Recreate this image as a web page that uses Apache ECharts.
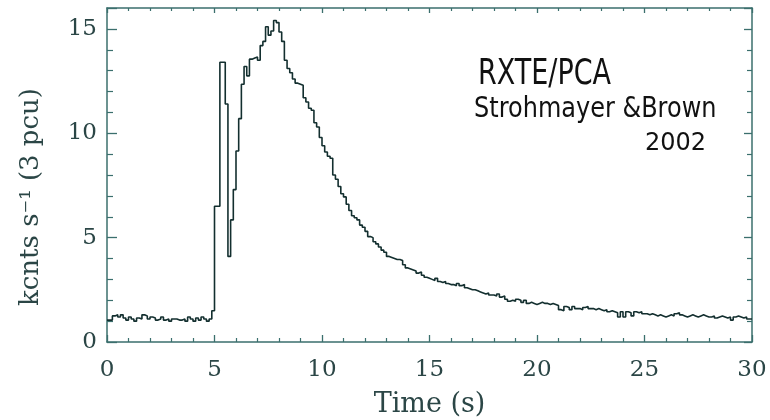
<!DOCTYPE html>
<html>
<head>
<meta charset="utf-8">
<script src="https://cdn.jsdelivr.net/npm/echarts@6/dist/echarts.min.js"></script>
<style>
  html, body { margin: 0; padding: 0; background: #ffffff; }
  #chart { width: 770px; height: 420px; }
</style>
</head>
<body>
<div id="chart"></div>
<script>
// ---- Data ----
const binWidth = 0.125; // s
const xTicks = [0, 5, 10, 15, 20, 25, 30];
const yTicks = [0, 5, 10, 15];
const xLabel = 'Time (s)';
const yLabel = 'kcnts s\u207B\u00B9 (3 pcu)';
const notes = ['RXTE/PCA', 'Strohmayer &Brown', '2002'];

// count rate per 0.125 s bin, kcnts/s
const rate0to5 = [
  1.05, 1.05, 1.25, 1.3, 1.2, 1.3, 1.15, 1.05,
  1.2, 1.1, 1.0, 1.15, 1.1, 1.3, 1.25, 1.1,
  1.2, 1.15, 1.05, 1.1, 1.2, 1.05, 1.1, 1.0,
  1.1, 1.1, 1.05, 1.05, 1.1, 1.0, 1.2, 1.1,
  1.0, 1.15, 1.05, 1.2, 1.1, 1.0, 1.1, 1.5
];
const rate5to10 = [
  6.5, 6.5, 13.4, 13.4, 11.4, 4.1, 5.85, 7.3,
  9.15, 10.7, 12.35, 13.2, 12.75, 13.55, 13.6, 13.65,
  13.5, 14.2, 14.4, 15.1, 14.7, 14.9, 15.4, 15.3,
  14.85, 14.4, 13.5, 13.1, 12.9, 12.6, 12.4, 12.35,
  12.3, 11.7, 11.5, 11.2, 11.1, 10.5, 10.3, 9.8
];
const rate10to15 = [
  9.4, 9.1, 8.9, 8.8, 8.0, 7.8, 7.45, 7.1,
  6.95, 6.6, 6.3, 6.05, 5.95, 5.85, 5.6, 5.5,
  5.3, 5.05, 5.0, 4.8, 4.7, 4.55, 4.4, 4.3,
  4.1, 4.05, 4.0, 3.95, 3.95, 3.9, 3.7, 3.55,
  3.5, 3.45, 3.4, 3.3, 3.35, 3.2, 3.1, 3.05
];
const rate15to20 = [
  3.0, 2.95, 3.05, 2.9, 2.85, 2.9, 2.8, 2.75,
  2.75, 2.7, 2.8, 2.7, 2.75, 2.6, 2.55, 2.5,
  2.5, 2.45, 2.4, 2.35, 2.3, 2.35, 2.25, 2.25,
  2.2, 2.3, 2.15, 2.2, 2.05, 1.95, 2.0, 1.95,
  2.05, 2.0, 1.9, 2.0, 1.85, 1.9, 1.85, 1.8
];
const rate20to25 = [
  1.85, 1.9, 1.85, 1.85, 1.8, 1.85, 1.8, 1.75,
  1.55, 1.5, 1.7, 1.65, 1.55, 1.7, 1.6, 1.6,
  1.55, 1.65, 1.7, 1.6, 1.6, 1.55, 1.6, 1.55,
  1.5, 1.55, 1.45, 1.5, 1.45, 1.4, 1.2, 1.45,
  1.2, 1.45, 1.4, 1.25, 1.45, 1.4, 1.45, 1.35
];
const rate25to30 = [
  1.35, 1.3, 1.35, 1.3, 1.25, 1.3, 1.25, 1.2,
  1.25, 1.3, 1.25, 1.35, 1.4, 1.3, 1.25, 1.2,
  1.25, 1.3, 1.25, 1.2, 1.25, 1.3, 1.25, 1.2,
  1.2, 1.25, 1.15, 1.2, 1.25, 1.2, 1.15, 1.2,
  1.05, 1.2, 1.25, 1.2, 1.15, 1.2, 1.1, 1.1
];

const rate = [].concat(rate0to5, rate5to10, rate10to15, rate15to20, rate20to25, rate25to30);
const seriesData = rate.map((v, i) => [i * binWidth, v]);
seriesData.push([rate.length * binWidth, rate[rate.length - 1]]);

// ---- Styling ----
const axisCol = '#3b6f6d';
const textCol = '#2b4646';
const lineCol = '#132f2f';
const serif = '"DejaVu Serif", "Liberation Serif", serif';

const xMin = xTicks[0], xMax = xTicks[xTicks.length - 1];
const yMin = yTicks[0], yMax = 16;

function xAxisCfg(pos, showLabels) {
  return {
    type: 'value', position: pos, min: xMin, max: xMax, interval: 5,
    splitLine: { show: false },
    axisLine: { show: true, onZero: false, lineStyle: { color: axisCol, width: 1.5 } },
    axisTick: { show: true, inside: true, length: showLabels ? 7 : 5, lineStyle: { color: axisCol, width: 1.3 } },
    minorTick: { show: true, splitNumber: 5, length: showLabels ? 4 : 3, lineStyle: { color: axisCol, width: 1.2 } },
    axisLabel: { show: showLabels, color: textCol, fontFamily: serif, fontSize: 23, margin: 17 },
    name: showLabels ? xLabel : '',
    nameLocation: 'middle', nameGap: 49,
    nameTextStyle: { color: textCol, fontFamily: serif, fontSize: 27 }
  };
}
function yAxisCfg(pos, showLabels) {
  return {
    type: 'value', position: pos, min: yMin, max: yMax, interval: 5,
    splitLine: { show: false },
    axisLine: { show: true, onZero: false, lineStyle: { color: axisCol, width: 1.5 } },
    axisTick: { show: true, inside: true, length: showLabels ? 10 : 8, lineStyle: { color: axisCol, width: 1.3 } },
    minorTick: { show: true, splitNumber: 5, length: showLabels ? 6 : 5, lineStyle: { color: axisCol, width: 1.2 } },
    axisLabel: { show: showLabels, color: textCol, fontFamily: serif, fontSize: 23, margin: 10, showMaxLabel: false },
    name: showLabels ? yLabel : '',
    nameLocation: 'middle', nameGap: 63, nameRotate: 90,
    nameTextStyle: { color: textCol, fontFamily: serif, fontSize: 26, padding: [0, 44, 0, 0] }
  };
}

const chart = echarts.init(document.getElementById('chart'), null, { renderer: 'canvas' });
chart.setOption({
  animation: false,
  backgroundColor: '#ffffff',
  grid: { left: 107, right: 18, top: 8, bottom: 78, containLabel: false, outerBoundsMode: 'none' },
  xAxis: [xAxisCfg('bottom', true), xAxisCfg('top', false)],
  yAxis: [yAxisCfg('left', true), yAxisCfg('right', false)],
  series: [{
    type: 'line',
    xAxisIndex: 0, yAxisIndex: 0,
    step: 'end',
    showSymbol: false,
    data: seriesData,
    lineStyle: { color: lineCol, width: 1.6 },
    silent: true
  }],
  graphic: [
    { type: 'text', x: 478, y: 57, scaleY: 1.3,
      style: { text: notes[0], fontFamily: '"DejaVu Sans", sans-serif', fontSize: 27, fill: '#111111', align: 'left', verticalAlign: 'top' } },
    { type: 'text', x: 474, y: 95, scaleY: 1.2,
      style: { text: notes[1], fontFamily: '"DejaVu Sans", sans-serif', fontSize: 24, fill: '#111111', align: 'left', verticalAlign: 'top' } },
    { type: 'text', x: 645, y: 132,
      style: { text: notes[2], fontFamily: '"DejaVu Sans", sans-serif', fontSize: 24, fill: '#111111', align: 'left', verticalAlign: 'top' } }
  ]
});
</script>
</body>
</html>
